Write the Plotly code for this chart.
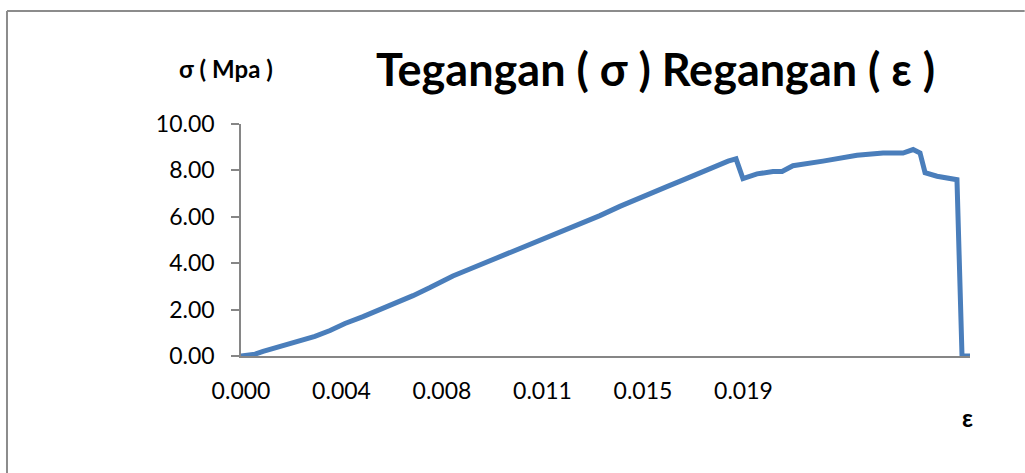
import plotly.graph_objects as go

# Stress-strain readings of the tensile specimen
strain = [0.0, 0.00053, 0.00083, 0.00147, 0.00211, 0.00278, 0.00335, 0.00391,
          0.00459, 0.00523, 0.00587, 0.00647, 0.00711, 0.00797, 0.00861, 0.00925,
          0.00985, 0.01049, 0.01113, 0.01174, 0.01237, 0.01301, 0.01350, 0.01425,
          0.01474, 0.01538, 0.01602, 0.01666, 0.01727, 0.01794, 0.01832, 0.01862,
          0.01888, 0.01941, 0.02001, 0.02035, 0.02076, 0.02189, 0.02242, 0.02317,
          0.02415, 0.02490, 0.02528, 0.02554, 0.02573, 0.02618, 0.02693, 0.02712,
          0.02742]
stress = [0.0, 0.08, 0.20, 0.40, 0.60, 0.85, 1.10, 1.40,
          1.70, 2.00, 2.30, 2.60, 2.95, 3.45, 3.75, 4.05,
          4.35, 4.65, 4.95, 5.20, 5.50, 5.80, 6.05, 6.45,
          6.70, 7.00, 7.30, 7.60, 7.90, 8.20, 8.40, 8.50,
          7.65, 7.85, 7.95, 7.95, 8.20, 8.40, 8.50, 8.65,
          8.75, 8.75, 8.90, 8.75, 7.90, 7.75, 7.60, 0.0,
          0.0]

x_tick_vals = [0.0, 0.00378, 0.00756, 0.01134, 0.01512, 0.0189]
x_tick_text = ["0.000", "0.004", "0.008", "0.011", "0.015", "0.019"]
y_tick_vals = [0, 2, 4, 6, 8, 10]
y_tick_text = ["0.00", "2.00", "4.00", "6.00", "8.00", "10.00"]

FONT = "Lato"
AXIS_GREY = "#868686"
FRAME_GREY = "#8C8C8C"

fig = go.Figure()
fig.add_trace(go.Scatter(
    x=strain, y=stress, mode="lines",
    line=dict(color="#4A7EBB", width=5),
    hoverinfo="skip", showlegend=False,
))

fig.update_layout(
    width=1025, height=473,
    margin=dict(l=241, r=55, t=124, b=117),
    paper_bgcolor="white", plot_bgcolor="white",
    font=dict(family=FONT, color="black"),
    xaxis=dict(
        range=[0, 0.02742], tickvals=x_tick_vals, ticktext=x_tick_text,
        showgrid=False, zeroline=False, showline=True, linecolor=AXIS_GREY,
        linewidth=1.5, ticks="", tickfont=dict(size=23, family=FONT),
        ticklabelstandoff=14,
    ),
    yaxis=dict(
        range=[0, 10], tickvals=y_tick_vals, ticktext=y_tick_text,
        showgrid=False, zeroline=False, showline=True, linecolor=AXIS_GREY,
        linewidth=1.5, ticks="outside", ticklen=8, tickcolor=AXIS_GREY,
        tickwidth=1.5, tickfont=dict(size=23, family=FONT),
        ticklabelstandoff=12,
    ),
    # chart frame: only its top and left edges fall inside the page
    shapes=[
        dict(type="line", xref="paper", yref="paper",
             x0=-0.321, x1=1.075, y0=1.487, y1=1.487,
             line=dict(color=FRAME_GREY, width=2)),
        dict(type="line", xref="paper", yref="paper",
             x0=-0.321, x1=-0.321, y0=-0.52, y1=1.487,
             line=dict(color=FRAME_GREY, width=2)),
    ],
    annotations=[
        dict(text="<b>Tegangan ( σ ) Regangan ( ε )</b>", xref="paper",
             yref="paper", x=0.568, y=1.237, showarrow=False,
             font=dict(size=45, family=FONT), xanchor="center",
             yanchor="middle"),
        dict(text="<b>σ ( Mpa )</b>", xref="paper", yref="paper",
             x=-0.021, y=1.241, showarrow=False,
             font=dict(size=24, family=FONT), xanchor="center",
             yanchor="middle"),
        dict(text="<b>ε</b>", xref="paper", yref="paper",
             x=0.997, y=-0.267, showarrow=False,
             font=dict(size=24, family=FONT), xanchor="center",
             yanchor="middle"),
    ],
)

fig.write_html("out.html")
